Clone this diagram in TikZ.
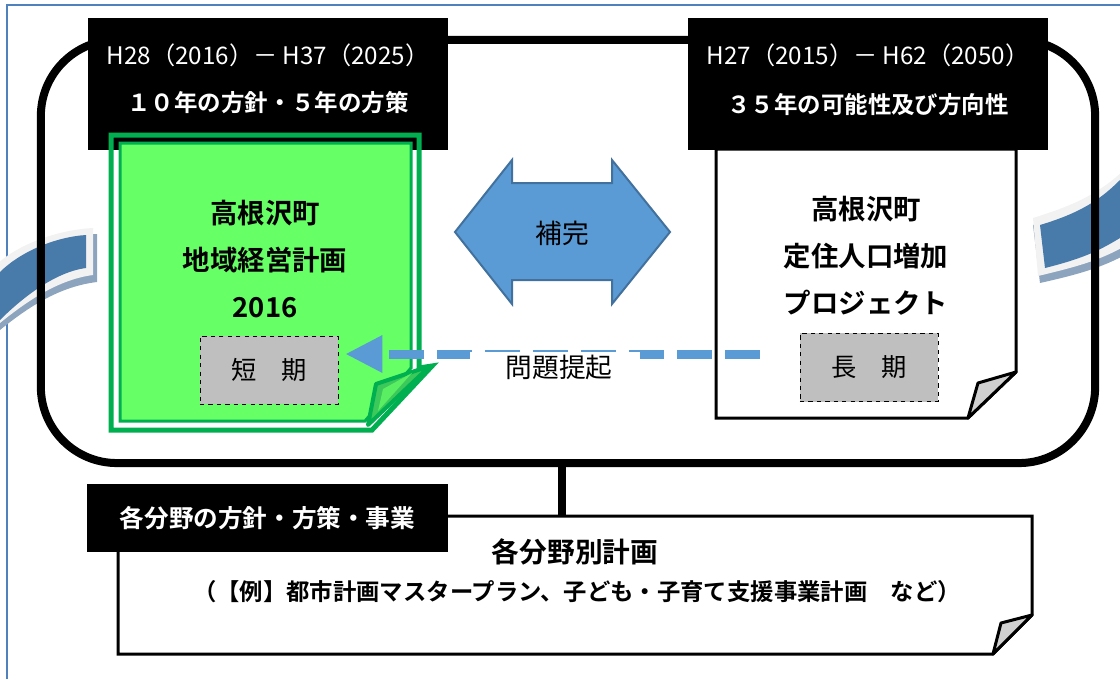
\documentclass[tikz,border=0pt]{standalone}
\usepackage{fontspec}
\setmainfont{Noto Sans CJK JP}[BoldFont={Noto Sans CJK JP Bold}]
\usepackage{xcolor}
\usepackage{tikz}
\usetikzlibrary{arrows.meta,calc}
\definecolor{frameblue}{RGB}{79,129,189}
\definecolor{arrowblue}{RGB}{91,155,213}
\definecolor{arrowedge}{RGB}{65,113,156}
\definecolor{leafgreen}{RGB}{102,255,102}
\definecolor{edgegreen}{RGB}{0,176,80}
\definecolor{flapgreen}{RGB}{60,200,90}
\definecolor{ribbonblue}{RGB}{72,122,170}
\definecolor{ribbonedge}{RGB}{242,242,242}
\definecolor{ribbonshade}{RGB}{140,164,190}
\definecolor{termgray}{RGB}{191,191,191}
\definecolor{flapgray}{RGB}{208,208,208}

\begin{document}
\begin{tikzpicture}[x=0.025cm,y=-0.025cm]
		\useasboundingbox (0,0) rectangle (1120,679);
		\tikzstyle{hdr}=[fill=black,inner sep=0pt,minimum width=9cm,minimum height=3.3cm]
		\tikzstyle{yrs}=[text=white,font=\fontsize{17.2}{20}\selectfont]
		\tikzstyle{aim}=[text=white,font=\fontsize{16.7}{20}\selectfont\bfseries]
		\tikzstyle{title}=[align=center,font=\fontsize{19.5}{33.4}\selectfont\bfseries]
		\tikzstyle{term}=[draw,dashed,thin,fill=termgray,inner sep=0pt,minimum width=3.45cm,minimum height=1.7cm,font=\fontsize{18}{20}\selectfont]
		\tikzstyle{note}=[font=\fontsize{19}{22}\selectfont]
		\tikzstyle{page}=[draw=black,fill=white,line width=0.075cm,line join=miter]
		\tikzstyle{fold}=[draw=black,fill=flapgray,line width=0.075cm,line join=round]
		% outer border
		\draw[frameblue,line width=0.06cm] (7,679) -- (7,5) -- (1120,5);
		% ribbons
		\fill[ribbonshade] (97,234) .. controls (55,236) and (15,252) .. (-5,272) -- (-5,334) .. controls (22,312) and (55,287) .. (97,282) -- cycle;
		\fill[ribbonedge] (93,228) .. controls (55,230) and (15,246) .. (-5,266) -- (-5,327) .. controls (22,305) and (55,280) .. (93,275) -- cycle;
		\fill[ribbonblue] (86,235) .. controls (55,237) and (20,252) .. (0,272) -- (0,320) .. controls (22,298) and (55,272) .. (86,268) -- cycle;
		\fill[ribbonshade] (1033,225) .. controls (1075,212) and (1100,200) .. (1125,176) -- (1125,255) .. controls (1100,268) and (1080,274) .. (1040,283) -- cycle;
		\fill[ribbonedge] (1033,218) .. controls (1075,205) and (1100,193) .. (1125,169) -- (1125,246) .. controls (1100,260) and (1080,266) .. (1038,276) -- cycle;
		\fill[ribbonblue] (1040,225) .. controls (1080,213) and (1100,200) .. (1120,180) -- (1120,238) .. controls (1100,250) and (1085,258) .. (1045,268) -- cycle;
		% plan frame
		\node[draw,line width=0.2cm,rounded corners=1.9cm,minimum width=26.35cm,minimum height=10.575cm] (plan) at (568,251.5) {};
		% long-term page
		\draw[page] (716,149) -- (1016,149) -- (1016,372) -- (968,418) -- (716,418) -- cycle;
		\draw[fold] (1016,372) -- (978,383) -- (968,418) -- cycle;
		% headers
		\node[hdr] (hdL) at (268,84) {};
		\node[hdr] (hdR) at (868,84) {};
		\node[yrs] (yrL) at (268,55) {H28（2016）－ H37（2025）};
		\node[aim] (aimL) at (268,103) {１０年の方針・５年の方策};
		\node[yrs] (yrR) at (868,55) {H27（2015）－ H62（2050）};
		\node[aim] (aimR) at (868,105) {３５年の可能性及び方向性};
		% short-term page
		\draw[edgegreen,line width=0.125cm,line join=miter] (111,135) -- (419,135) -- (419,368) -- (432,366) -- (372,430) -- (111,430) -- cycle;
		\draw[edgegreen,fill=leafgreen,line width=0.075cm] (120,143) -- (411,143) -- (411,368) -- (365,421) -- (120,421) -- cycle;
		\draw[edgegreen,fill=flapgreen,line width=0.1cm,line join=round] (430,366) -- (376,384) -- (368,425) -- cycle;
		\fill[leafgreen!70!flapgreen] (412,373) -- (383,389) -- (378,411) -- cycle;
		\node[title] (mgmt) at (265,259) {高根沢町\\地域経営計画\\2016};
		\node[term] (short) at (269,370) {短　期};
		\node[title] (proj) at (866,256) {高根沢町\\定住人口増加\\プロジェクト};
		\node[term] (long) at (869,367.5) {長　期};
		% mutual arrow
		\draw[fill=arrowblue,draw=arrowedge,line width=0.05cm] (455,232) -- (512,160) -- (512,183) -- (612,183) -- (612,160) -- (670,232) -- (612,304) -- (612,280) -- (512,280) -- (512,304) -- cycle;
		\node[note] (comp) at (562,233) {補完};
		% issue arrow
		\coordinate (raise) at (760,354);
		\draw[arrowblue,line width=0.225cm,dash pattern=on 0.875cm off 0.325cm,-{Triangle[length=0.925cm,width=0.875cm]}] (raise) -- ([xshift=0.175cm]short.east |- raise);
		\node[note,fill=white,inner xsep=0.7cm,inner ysep=2pt] (issue) at (555,367) {\hspace{0.2cm}問題提起};
		% sectoral plans
		\draw[page] (118,516) -- (1032,516) -- (1032,615) -- (993,654) -- (118,654) -- cycle;
		\draw[fold] (1032,615) -- (1001,623) -- (993,654) -- cycle;
		\node[hdr,minimum height=1.7cm] (hdB) at (267.5,518) {};
		\node[aim,font=\fontsize{17.5}{20}\selectfont\bfseries] (aimB) at (267.5,518) {各分野の方針・方策・事業};
		\node[font=\fontsize{19.7}{22}\selectfont\bfseries] (sect) at (575,552) {各分野別計画};
		\node[font=\fontsize{16.6}{20}\selectfont\bfseries] (ex) at (577,592) {（【例】都市計画マスタープラン、子ども・子育て支援事業計画　など）};
		\coordinate (tie) at (562,516);
		\draw[line width=0.2cm] (tie |- plan.south) -- (tie);
\end{tikzpicture}
\end{document}
